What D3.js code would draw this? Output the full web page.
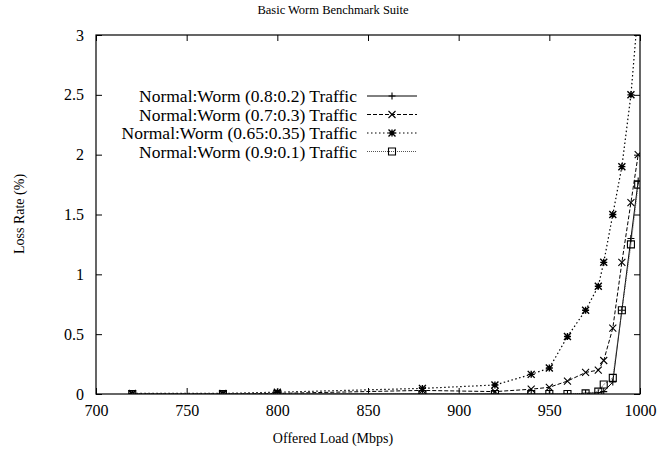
<!DOCTYPE html>
<html>
<head>
<style>
  body { margin: 0; background: #fff; }
  svg text { fill: #000; }
</style>
</head>
<body>
<script src="https://d3js.org/d3.v7.min.js"></script>
<svg width="660" height="459"></svg>
<script>
// offered load points (Mbps)
var loads = [720, 770, 800, 880, 920, 940, 950, 960, 970, 977, 980, 985, 990, 995, 999];
// loss rate (%) per traffic mix
var mix82  = [0, 0, 0, 0, 0, 0, 0, 0, 0.005, 0.01, 0.02, 0.1, 0.7, 1.3, 1.78];
var mix73  = [0, 0, 0.005, 0.03, 0.02, 0.04, 0.056, 0.108, 0.18, 0.2, 0.28, 0.55, 1.1, 1.6, 2.0];
var mix6535 = [0.005, 0.005, 0.015, 0.047, 0.075, 0.164, 0.217, 0.48, 0.7, 0.9, 1.1, 1.5, 1.9, 2.5, 3.22];
var mix91  = [0, 0, 0, 0, 0, 0, 0, 0, 0.005, 0.02, 0.08, 0.135, 0.7, 1.25, 1.75];
var labels = ["Normal:Worm (0.8:0.2) Traffic", "Normal:Worm (0.7:0.3) Traffic",
              "Normal:Worm (0.65:0.35) Traffic", "Normal:Worm (0.9:0.1) Traffic"];
var xTicks = [700, 750, 800, 850, 900, 950, 1000];
var yTicks = [0, 0.5, 1, 1.5, 2, 2.5, 3];

var series = [
  {name: labels[0], values: mix82, dash: null, marker: "plus", stroke: "#000", w: 1},
  {name: labels[1], values: mix73, dash: "4,2", marker: "cross", stroke: "#000", w: 1},
  {name: labels[2], values: mix6535, dash: "1.5,2.5", marker: "star", stroke: "#000", w: 1.2},
  {name: labels[3], values: mix91, dash: "1,1", marker: "square", stroke: "#555", w: 1}
];

var FONT = "'Liberation Serif', 'DejaVu Serif', serif";
var svg = d3.select("svg");
var mL = 96, mR = 640, mT = 35, mB = 394;
var x = d3.scaleLinear().domain([700, 1000]).range([mL, mR]);
var y = d3.scaleLinear().domain([0, 3]).range([mB, mT]);

svg.append("text").attr("x", 333).attr("y", 14).attr("text-anchor", "middle")
  .style("font-family", FONT).style("font-size", "12.5px").text("Basic Worm Benchmark Suite");

// clip for data lines
svg.append("clipPath").attr("id", "clip").append("rect")
  .attr("x", mL).attr("y", mT).attr("width", mR - mL).attr("height", mB - mT);

// axes with inward ticks
var tl = 6;
var axB = svg.append("g").attr("transform", "translate(0," + mB + ")")
  .call(d3.axisBottom(x).tickValues(xTicks).tickSize(-tl).tickPadding(11).tickFormat(d3.format("d")));
var axT = svg.append("g").attr("transform", "translate(0," + mT + ")")
  .call(d3.axisTop(x).tickValues(xTicks).tickSize(-tl).tickFormat(""));
var axL = svg.append("g").attr("transform", "translate(" + mL + ",0)")
  .call(d3.axisLeft(y).tickValues(yTicks).tickSize(-tl).tickPadding(12).tickFormat(d3.format("")));
var axR = svg.append("g").attr("transform", "translate(" + mR + ",0)")
  .call(d3.axisRight(y).tickValues(yTicks).tickSize(-tl).tickFormat(""));
[axB, axT, axL, axR].forEach(function(a) {
  a.attr("font-family", null).attr("font-size", null);
  a.select(".domain").remove();
  a.selectAll("line").attr("stroke", "#000");
  a.selectAll("text").style("font-family", FONT).style("font-size", "16px");
});

svg.append("rect").attr("x", mL).attr("y", mT).attr("width", mR - mL).attr("height", mB - mT)
  .attr("fill", "none").attr("stroke", "#000").attr("stroke-width", 1.2);

svg.append("text").attr("x", 333).attr("y", 443).attr("text-anchor", "middle")
  .style("font-family", FONT).style("font-size", "14px").text("Offered Load (Mbps)");
svg.append("text").attr("transform", "translate(24,214) rotate(-90)").attr("text-anchor", "middle")
  .style("font-family", FONT).style("font-size", "14px").text("Loss Rate (%)");

function drawMarker(g, type, cx, cy) {
  var s = 3.5;
  var p = "";
  if (type === "plus" || type === "star")
    p += "M" + (cx - s) + "," + cy + "H" + (cx + s) + "M" + cx + "," + (cy - s) + "V" + (cy + s);
  if (type === "cross" || type === "star")
    p += "M" + (cx - s) + "," + (cy - s) + "L" + (cx + s) + "," + (cy + s) +
         "M" + (cx - s) + "," + (cy + s) + "L" + (cx + s) + "," + (cy - s);
  if (type === "square")
    p = "M" + (cx - s) + "," + (cy - s) + "h" + 2 * s + "v" + 2 * s + "h" + (-2 * s) + "Z";
  g.append("path").attr("d", p).attr("fill", "none").attr("stroke", "#000")
    .attr("stroke-width", type === "star" ? 1.4 : 1.1);
}

var line = d3.line().x(function(d) { return x(d[0]); }).y(function(d) { return y(d[1]); });
var plot = svg.append("g").attr("clip-path", "url(#clip)");

series.forEach(function(s) {
  var pts = loads.map(function(l, i) { return [l, s.values[i]]; });
  plot.append("path").datum(pts).attr("d", line).attr("fill", "none")
    .attr("stroke", s.stroke).attr("stroke-width", s.w).attr("stroke-dasharray", s.dash);
  var mg = plot.append("g");
  pts.forEach(function(p) { drawMarker(mg, s.marker, x(p[0]), y(p[1])); });
});

// legend
var lg = svg.append("g");
series.forEach(function(s, i) {
  var yy = 96 + i * 18.5;
  lg.append("text").attr("x", 357).attr("y", yy).attr("dy", "0.35em").attr("text-anchor", "end")
    .style("font-family", FONT).style("font-size", "17.5px").text(s.name);
  lg.append("line").attr("x1", 367).attr("x2", 417).attr("y1", yy).attr("y2", yy)
    .attr("stroke", s.stroke).attr("stroke-width", s.w).attr("stroke-dasharray", s.dash);
  drawMarker(lg, s.marker, 392, yy);
});
</script>
</body>
</html>
